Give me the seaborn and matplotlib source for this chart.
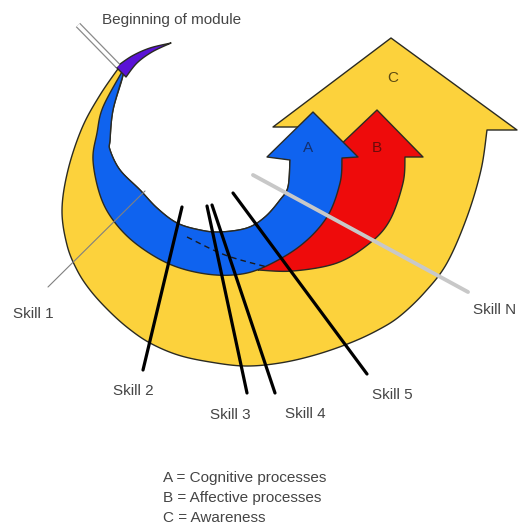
import numpy as np
import matplotlib
matplotlib.use("Agg")
import matplotlib.pyplot as plt
from matplotlib.patches import Polygon
import seaborn as sns

# outline points of the shapes, in picture pixels (x right, y down)
yellow_outer = [(120, 66), (100, 95), (82, 128), (68, 170), (62, 210), (67, 245), (77, 270),
                (90, 290), (108, 310), (128, 328), (150, 343), (178, 355), (210, 362),
                (245, 366), (280, 363), (315, 355), (350, 343), (378, 330), (400, 316),
                (425, 292), (447, 263), (467, 217), (481, 170), (487, 130)]
yellow_head = [(487, 130), (517, 130), (391, 38), (273, 127), (300, 127), (300, 160)]
yellow_inner = [(290, 160), (288, 187), (280, 200), (265, 217), (247, 228), (220, 232),
                (200, 230), (177, 223), (157, 208), (140, 190), (120, 170), (110, 150),
                (110, 140), (113, 110), (123, 75), (120, 66)]

blue_outer = [(123, 70), (103, 107), (97, 133), (93, 160), (100, 195), (113, 220), (135, 243),
              (167, 263), (200, 273), (233, 275), (262, 268), (300, 246), (327, 217),
              (340, 183), (342, 158)]
blue_head = [(342, 158), (358, 157), (313, 112), (267, 157), (290, 160)]
blue_inner = yellow_inner[:-1] + [(123, 70)]

red_outer = [(258, 270), (293, 271), (337, 263), (370, 243), (390, 220), (403, 183), (405, 157)]
red_head = [(405, 157), (423, 157), (377, 110), (335, 150), (337, 168)]
red_inner = [(337, 168), (334, 190), (322, 218), (300, 243), (262, 267)]

purple_top = [(116, 67), (132, 56), (150, 48), (171, 43)]
purple_bottom = [(171, 43), (152, 52), (137, 63), (126, 77)]

# pointer lines: name, start, end, colour, width
skill_names = ["Skill 1", "Skill 2", "Skill 3", "Skill 4", "Skill 5", "Skill N"]
skill_start = [(145, 191), (182, 207), (207, 206), (212, 205), (233, 193), (253, 175)]
skill_end = [(48, 287), (143, 370), (247, 393), (275, 393), (367, 374), (468, 292)]
skill_color = ["#808080", "black", "black", "black", "black", "#c8c8c8"]
skill_width = [0.8, 2.3, 2.3, 2.3, 2.3, 2.8]
label_pos = [(13, 314), (113, 391), (210, 415), (285, 414), (372, 395), (473, 310)]

dash_pts = [(187, 237), (225, 255), (267, 267)]
begin_line = [(78, 25), (118, 66)]

arrow_letters = ["A", "B", "C"]
arrow_letter_pos = [(308, 148), (377, 148), (393, 78)]
arrow_letter_color = ["#13306e", "#6a0c0c", "#5c4a12"]

legend_lines = ["A = Cognitive processes", "B = Affective processes", "C = Awareness"]
legend_y = [478, 498, 518]


def smooth(pts, n=12):
    p = np.asarray(pts, float)
    p = np.vstack([p[0], p, p[-1]])
    out = []
    t = np.linspace(0, 1, n, endpoint=False)[:, None]
    for i in range(1, len(p) - 2):
        p0, p1, p2, p3 = p[i - 1], p[i], p[i + 1], p[i + 2]
        out.append(0.5 * (2 * p1 + (-p0 + p2) * t + (2 * p0 - 5 * p1 + 4 * p2 - p3) * t ** 2
                          + (-p0 + 3 * p1 - 3 * p2 + p3) * t ** 3))
    out.append(p[-2][None])
    return np.vstack(out)


def shape(*pieces):
    parts = []
    for kind, pts in pieces:
        parts.append(smooth(pts) if kind == "c" else np.asarray(pts, float))
    return np.vstack(parts)


sns.set_theme(style="white")
plt.rcParams["font.family"] = ["Liberation Sans", "DejaVu Sans"]

fig = plt.figure(figsize=(5.18, 5.26), dpi=100)
ax = fig.add_axes([0, 0, 1, 1])
ax.set_xlim(0, 518)
ax.set_ylim(526, 0)
ax.axis("off")

edge = "#2a2a22"
yellow = shape(("c", yellow_outer), ("l", yellow_head), ("c", yellow_inner))
red = shape(("c", red_outer), ("l", red_head), ("c", red_inner))
blue = shape(("c", blue_outer), ("l", blue_head), ("c", blue_inner))
purple = shape(("c", purple_top), ("c", purple_bottom))

for pts, col in [(yellow, "#fcd23c"), (red, "#ee0b0b"), (blue, "#0f63ef"), (purple, "#5a12d6")]:
    ax.add_patch(Polygon(pts, closed=True, facecolor=col, edgecolor=edge, lw=1.0, joinstyle="round"))

# "beginning of module" pointer: white line with grey rim
bx, by = zip(*begin_line)
ax.plot(bx, by, color="#8a8a8a", lw=4.4, solid_capstyle="butt")
ax.plot(bx, by, color="white", lw=2.6, solid_capstyle="butt")

d = smooth(dash_pts)
ax.plot(d[:, 0], d[:, 1], color="#1a1a1a", lw=1.0, ls=(0, (4, 3)))

for name, s, e, c, w, lp in zip(skill_names, skill_start, skill_end, skill_color, skill_width, label_pos):
    ax.plot([s[0], e[0]], [s[1], e[1]], color=c, lw=w, solid_capstyle="round")
    ax.text(lp[0], lp[1], name, ha="left", va="center", fontsize=11, color="#454545")

for letter, (x, y), c in zip(arrow_letters, arrow_letter_pos, arrow_letter_color):
    ax.text(x, y, letter, ha="center", va="center", fontsize=11, color=c)

ax.text(172, 20, "Beginning of module", ha="center", va="center", fontsize=11, color="#454545")
for line, y in zip(legend_lines, legend_y):
    ax.text(163, y, line, ha="left", va="center", fontsize=11, color="#454545")

fig.savefig("out.png", dpi=100)
